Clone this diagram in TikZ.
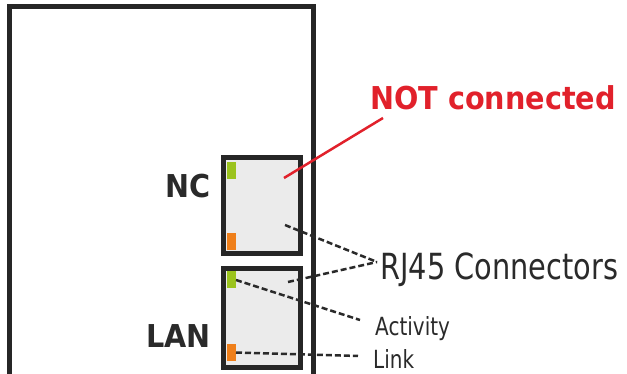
\documentclass[tikz,border=0pt]{standalone}
\usepackage{fontspec}
\usepackage{tikz}
\usetikzlibrary{positioning, calc}
\newfontfamily\thinfont{DejaVu Sans}[FakeStretch=0.8]
\newfontfamily\heavyfont{DejaVu Sans}[FakeStretch=0.91]
\definecolor{boardline}{HTML}{262626}
\definecolor{jackfill}{HTML}{EBEBEB}
\definecolor{ledgreen}{HTML}{9BC31E}
\definecolor{ledorange}{HTML}{EF7F1A}
\definecolor{warnred}{HTML}{E1212B}
\definecolor{txtgrey}{HTML}{2A2A2A}
\tikzset{
  board/.style={draw=boardline, line width=5pt},
  jack/.style={
    rectangle, draw=boardline, line width=5pt, fill=jackfill,
    minimum width=77pt, outer sep=0pt, inner sep=0pt
  },
  led/.style={
    rectangle, fill=#1, minimum width=9pt, minimum height=17pt,
    inner sep=0pt, outer sep=0pt
  },
  portname/.style={
    anchor=base east, inner sep=0pt, text=txtgrey,
    font=\heavyfont\bfseries\fontsize{31.5}{34}\selectfont
  },
  callout/.style={
    anchor=base west, inner sep=0pt, text=txtgrey,
    font=\thinfont\fontsize{#1}{#1}\selectfont
  },
  lead/.style={draw=txtgrey, line width=2.5pt, dash pattern=on 6pt off 3pt},
  redlead/.style={draw=warnred, line width=2.5pt}
}

\begin{document}
\begin{tikzpicture}[x=1pt, y=-1pt]
\useasboundingbox (0,0) rectangle (627,374);

% Board outline (open at the bottom)
\draw[board] (9.5,374) -- (9.5,6.5) -- (313,6.5) -- (313,374);

% Two RJ45 jacks
\node[jack, minimum height=96pt] (ncjack) at (262,205.5) {};
\node[jack, minimum height=99pt] (lanjack) at (262,318) {};

% LEDs
\node[led=ledgreen]  (ncgreen)   at (231.5,170.5) {};
\node[led=ledorange] (ncorange)  at (231.5,241.5) {};
\node[led=ledgreen]  (langreen)  at (231.5,280)   {};
\node[led=ledorange] (lanorange) at (231.5,352.5) {};

% Port names
\node[portname] (ncname)  at (211,198) {NC};
\node[portname] (lanname) at (211,348) {LAN};

% Labels
\node[anchor=base west, inner sep=0pt, text=warnred,
      font=\heavyfont\bfseries\fontsize{31.5}{34}\selectfont]
  (notc) at (370,110) {NOT connected};
\node[callout=36] (rj) at (380,280) {RJ45 Connectors};
\node[callout=25] (act) at (375,336) {Activity};
\node[callout=25] (lnk) at (373,368) {Link};

% Leaders
\draw[redlead] ([shift={(22,-27.5)}]ncjack.center) -- ([shift={(13,8)}]notc.base west);
\draw[lead] ([shift={(23,19.5)}]ncjack.center) -- ([shift={(-3,-18)}]rj.base west);
\draw[lead] ([shift={(26,-36)}]lanjack.center) -- ([shift={(-3,-18)}]rj.base west);
\draw[lead] (langreen.east) -- ([shift={(-15,-16)}]act.base west);
\draw[lead] (lanorange.east) -- ([shift={(-15,-12)}]lnk.base west);

\end{tikzpicture}
\end{document}
